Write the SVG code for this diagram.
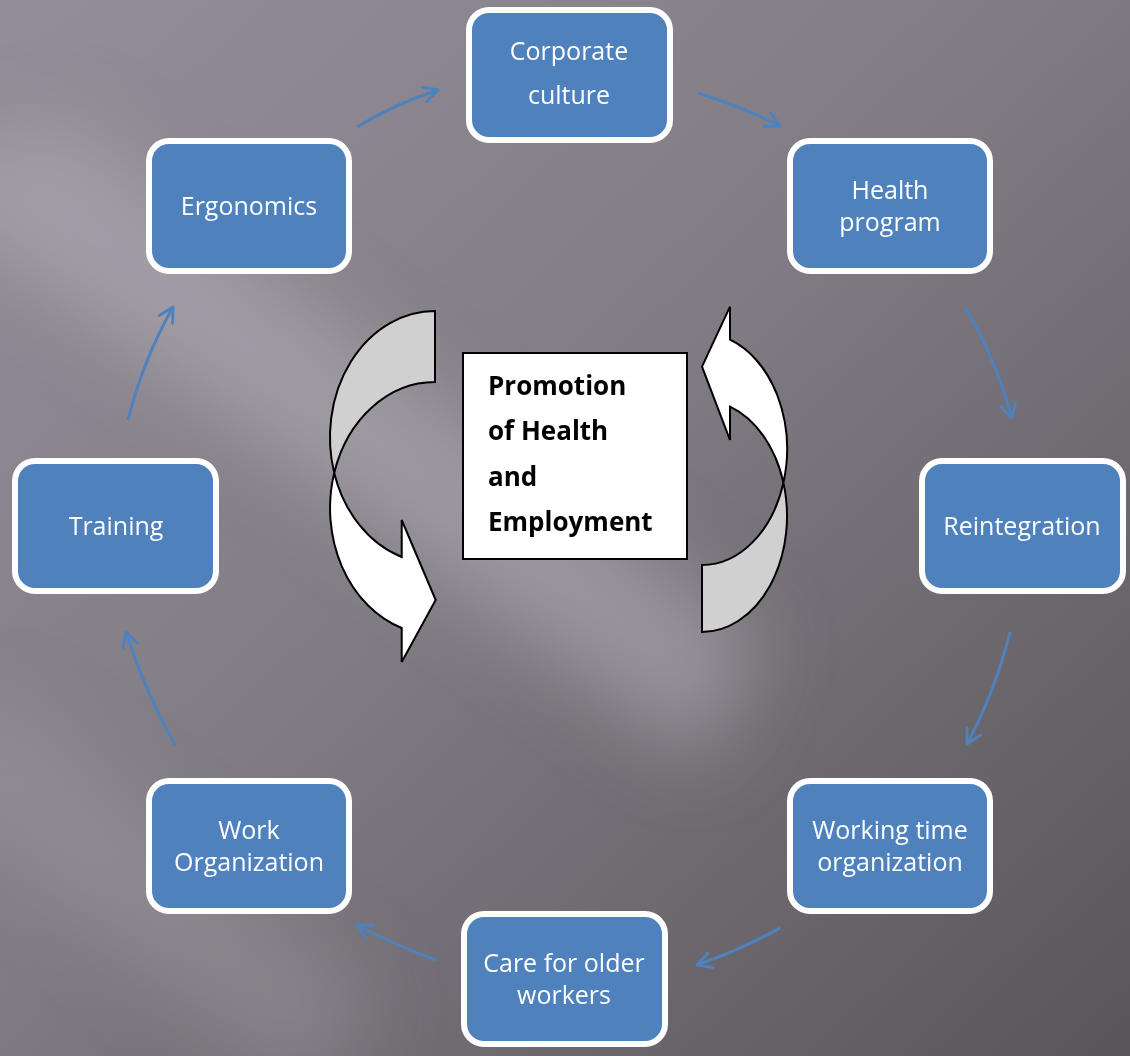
<svg xmlns="http://www.w3.org/2000/svg" width="1130" height="1056" viewBox="0 0 1130 1056">
  <defs>
    <linearGradient id="bg" x1="0" y1="0" x2="1" y2="1">
      <stop offset="0" stop-color="#938e98"/>
      <stop offset="0.45" stop-color="#827d85"/>
      <stop offset="1" stop-color="#5a555a"/>
    </linearGradient>
    <filter id="soft" x="-20%" y="-20%" width="140%" height="140%">
      <feGaussianBlur stdDeviation="40"/>
    </filter>
    <marker id="open" markerUnits="userSpaceOnUse" viewBox="0 0 16 16" markerWidth="18" markerHeight="18" refX="14" refY="8" orient="auto">
      <path d="M1,1 L14,8 L1,15" fill="none" stroke="#4f81bd" stroke-width="2.6" stroke-linecap="round" stroke-linejoin="round"/>
    </marker>
    <style>
      .node rect { fill: #4f81bd; stroke: #ffffff; stroke-width: 6; }
      .node text { fill: #ffffff; font-family: "Open Sans", "Noto Sans", sans-serif; font-size: 25px; text-anchor: middle; }
      .link { fill: none; stroke: #4f81bd; stroke-width: 3; marker-end: url(#open); }
      .cyc { stroke: #000000; stroke-width: 2; stroke-linejoin: miter; }
      .title { font-family: "Open Sans", "Noto Sans", sans-serif; font-size: 26px; font-weight: bold; fill: #000000; }
    </style>
  </defs>

  <!-- backdrop: dark grey gradient with soft light diagonal bands -->
  <rect x="0" y="0" width="1130" height="1056" fill="url(#bg)"/>
  <g filter="url(#soft)">
    <polygon points="-100,180 60,120 760,640 700,760" fill="#b4aeb8" opacity="0.55"/>
    <polygon points="-100,760 0,700 380,1000 300,1100" fill="#a8a2ac" opacity="0.35"/>
  </g>

  <!-- connectors around the cycle -->
  <g id="connectors">
    <path class="link" d="M357,127 Q395,104 438,90"/>
    <path class="link" d="M698,93 Q740,106 780,126"/>
    <path class="link" d="M965,307 Q995,357 1012,418"/>
    <path class="link" d="M1010,632 Q995,692 967,744"/>
    <path class="link" d="M780,928 Q740,950 697,965"/>
    <path class="link" d="M436,960 Q395,945 357,925"/>
    <path class="link" d="M175,745 Q145,692 126,632"/>
    <path class="link" d="M128,420 Q143,360 173,307"/>
  </g>

  <!-- two curved block arrows around the centre -->
  <g id="cycle-left">
    <path class="cyc" fill="#d0d0d0" d="M435,311 A105,126.4 0 0 0 334.2,472.9 A105,126.4 0 0 1 435,382 Z"/>
    <path class="cyc" fill="#ffffff" d="M334.2,472.9 A105,126.4 0 0 0 401.7,628 L401.7,662 L435.7,600 L401.7,520 L401.7,557 A105,126.4 0 0 1 334.2,472.9 Z"/>
  </g>
  <g id="cycle-right">
    <path class="cyc" fill="#d0d0d0" d="M702,632 A85,115.9 0 0 0 783.4,482.6 A85,115.9 0 0 1 702,565 Z"/>
    <path class="cyc" fill="#ffffff" d="M783.4,482.6 A85,115.9 0 0 0 730,339.7 L730,306.7 L702,366.7 L730,440 L730,406.7 A85,115.9 0 0 1 783.4,482.6 Z"/>
  </g>

  <!-- central title box -->
  <g id="center">
    <rect x="463" y="353" width="224" height="206" fill="#ffffff" stroke="#000000" stroke-width="2"/>
    <text class="title" x="488" y="395">Promotion</text>
    <text class="title" x="488" y="440">of Health</text>
    <text class="title" x="488" y="486">and</text>
    <text class="title" x="488" y="531">Employment</text>
  </g>

  <!-- cycle nodes -->
  <g id="corporate-culture" class="node">
    <rect x="469" y="10" width="201" height="130" rx="20"/>
    <text x="569" y="60">Corporate</text>
    <text x="569" y="104">culture</text>
  </g>
  <g id="health-program" class="node">
    <rect x="790" y="141" width="200" height="130" rx="20"/>
    <text x="890" y="199">Health</text>
    <text x="890" y="231">program</text>
  </g>
  <g id="reintegration" class="node">
    <rect x="922" y="461" width="201" height="130" rx="20"/>
    <text x="1022" y="535">Reintegration</text>
  </g>
  <g id="working-time-organization" class="node">
    <rect x="790" y="781" width="200" height="130" rx="20"/>
    <text x="890" y="839">Working time</text>
    <text x="890" y="871">organization</text>
  </g>
  <g id="care-for-older-workers" class="node">
    <rect x="464" y="914" width="201" height="130" rx="20"/>
    <text x="564" y="972">Care for older</text>
    <text x="564" y="1004">workers</text>
  </g>
  <g id="work-organization" class="node">
    <rect x="149" y="781" width="200" height="130" rx="20"/>
    <text x="249" y="839">Work</text>
    <text x="249" y="871">Organization</text>
  </g>
  <g id="training" class="node">
    <rect x="15" y="461" width="201" height="130" rx="20"/>
    <text x="116" y="535">Training</text>
  </g>
  <g id="ergonomics" class="node">
    <rect x="149" y="141" width="200" height="130" rx="20"/>
    <text x="249" y="215">Ergonomics</text>
  </g>
</svg>
